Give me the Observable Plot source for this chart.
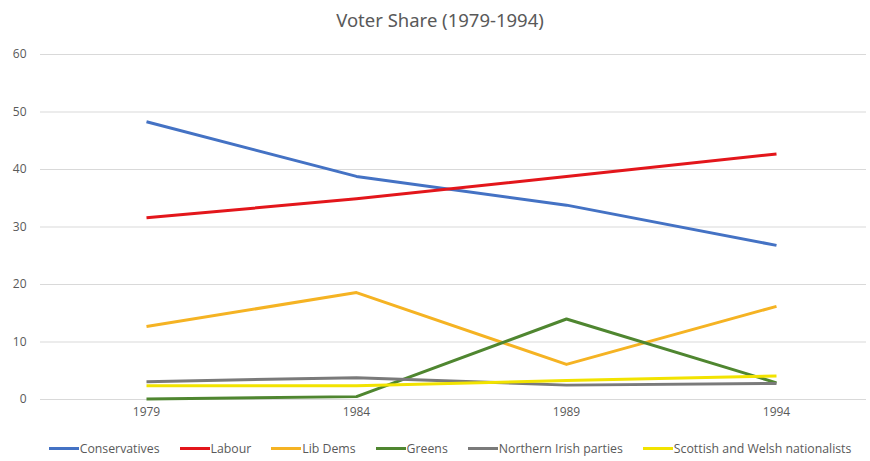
<!DOCTYPE html>
<html>
<head>
<meta charset="utf-8">
<script src="https://cdn.jsdelivr.net/npm/d3@7"></script>
<script src="https://cdn.jsdelivr.net/npm/@observablehq/plot@0.6"></script>
<style>
  body { margin: 0; background: #fff; font-family: "Open Sans", sans-serif; }
  #wrap { width: 870px; height: 461px; position: relative; }
  #title { height: 40px; line-height: 40px; text-align: center; font-size: 18.5px; color: #595959; font-family: "Noto Sans", sans-serif; padding-left: 10px; }
  #legend { display: flex; justify-content: center; align-items: center; gap: 20px; font-size: 12.3px; color: #595959; height: 26px; padding-left: 30px; }
  #legend .item { display: flex; align-items: center; gap: 1px; }
  #legend .sw { width: 30px; height: 3px; display: inline-block; }
</style>
</head>
<body>
<div id="wrap">
  <div id="title">Voter Share (1979-1994)</div>
  <div id="chart"></div>
  <div id="legend"></div>
</div>
<script>
const years = ["1979", "1984", "1989", "1994"];
const parties = ["Conservatives", "Labour", "Lib Dems", "Greens", "Northern Irish parties", "Scottish and Welsh nationalists"];
const colors = ["#4472C4", "#E3161B", "#F5B323", "#4F8630", "#7A7A7A", "#F2E300"];
const conservatives = [48.3, 38.8, 33.8, 26.8];
const labour = [31.6, 34.9, 38.8, 42.7];
const libDems = [12.7, 18.6, 6.1, 16.2];
const greens = [0.1, 0.5, 14.0, 2.9];
const northernIrish = [3.1, 3.8, 2.5, 2.8];
const scottishWelsh = [2.4, 2.4, 3.3, 4.1];
const yTicks = [0, 10, 20, 30, 40, 50, 60];

const series = [conservatives, labour, libDems, greens, northernIrish, scottishWelsh];
const data = [];
series.forEach((vals, i) => vals.forEach((v, j) => data.push({party: parties[i], year: years[j], value: v})));

const chart = Plot.plot({
  width: 870,
  height: 395,
  marginLeft: 40,
  marginRight: 4,
  marginTop: 14,
  marginBottom: 36,
  style: { fontFamily: "Open Sans, sans-serif", fontSize: "12px", color: "#595959", background: "#fff" },
  x: { type: "point", domain: years, range: [145, 776], padding: 0, label: null },
  y: { domain: [0, 60], label: null },
  color: { domain: parties, range: colors },
  marks: [
    Plot.ruleY(yTicks, { stroke: "#D9D9D9", strokeWidth: 1 }),
    Plot.axisY({ ticks: yTicks, tickSize: 0, tickPadding: 14, label: null, fill: "#595959" }),
    Plot.axisX({ tickSize: 0, tickPadding: 8, label: null, fill: "#595959" }),
    Plot.line(data, { x: "year", y: "value", z: "party", stroke: "party", strokeWidth: 3, strokeLinejoin: "round", strokeLinecap: "butt" })
  ]
});
document.getElementById("chart").appendChild(chart);

const legend = document.getElementById("legend");
parties.forEach((p, i) => {
  const item = document.createElement("div");
  item.className = "item";
  const sw = document.createElement("span");
  sw.className = "sw";
  sw.style.background = colors[i];
  const t = document.createElement("span");
  t.textContent = p;
  item.appendChild(sw);
  item.appendChild(t);
  legend.appendChild(item);
});
</script>
</body>
</html>
